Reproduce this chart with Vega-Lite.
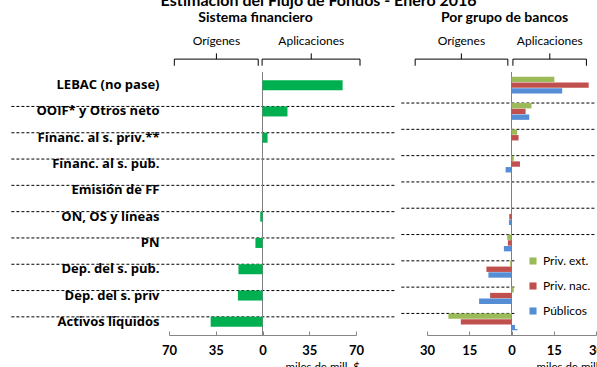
{
  "$schema": "https://vega.github.io/schema/vega-lite/v6.json",
  "background": "white",
  "padding": {"left": 10, "top": -7, "right": 0, "bottom": 0},
  "title": {
    "text": "Estimación del Flujo de Fondos - Enero 2016",
    "font": "Lato", "fontSize": 16, "fontWeight": "bold", "color": "black",
    "anchor": "middle", "offset": 2, "dx": 8
  },
  "config": {
    "font": "Lato",
    "view": {"stroke": null},
    "title": {"font": "Lato", "color": "black"},
    "axis": {"labelFont": "Lato", "titleFont": "Lato"},
    "legend": {"labelFont": "Lato"}
  },
  "datasets": {
    "sistema": [
      {"rubro": "LEBAC (no pase)", "valor": 60},
      {"rubro": "OOIF* y Otros neto", "valor": 18.7},
      {"rubro": "Financ. al s. priv.**", "valor": 3.8},
      {"rubro": "Financ. al s. pub.", "valor": 0},
      {"rubro": "Emisión de FF", "valor": 0},
      {"rubro": "ON, OS y líneas", "valor": -1.7},
      {"rubro": "PN", "valor": -5.3},
      {"rubro": "Dep. del s. pub.", "valor": -18},
      {"rubro": "Dep. del s. priv", "valor": -18.4},
      {"rubro": "Activos líquidos", "valor": -38.8}
    ],
    "grupos": [
      {"rubro": "LEBAC (no pase)", "grupo": "Priv. ext.", "valor": 15.2},
      {"rubro": "LEBAC (no pase)", "grupo": "Priv. nac.", "valor": 27.4},
      {"rubro": "LEBAC (no pase)", "grupo": "Públicos", "valor": 18},
      {"rubro": "OOIF* y Otros neto", "grupo": "Priv. ext.", "valor": 7.1},
      {"rubro": "OOIF* y Otros neto", "grupo": "Priv. nac.", "valor": 5},
      {"rubro": "OOIF* y Otros neto", "grupo": "Públicos", "valor": 6.3},
      {"rubro": "Financ. al s. priv.**", "grupo": "Priv. ext.", "valor": 2},
      {"rubro": "Financ. al s. priv.**", "grupo": "Priv. nac.", "valor": 2.5},
      {"rubro": "Financ. al s. priv.**", "grupo": "Públicos", "valor": 0},
      {"rubro": "Financ. al s. pub.", "grupo": "Priv. ext.", "valor": 0.8},
      {"rubro": "Financ. al s. pub.", "grupo": "Priv. nac.", "valor": 3},
      {"rubro": "Financ. al s. pub.", "grupo": "Públicos", "valor": -2.1},
      {"rubro": "Emisión de FF", "grupo": "Priv. ext.", "valor": 0},
      {"rubro": "Emisión de FF", "grupo": "Priv. nac.", "valor": 0},
      {"rubro": "Emisión de FF", "grupo": "Públicos", "valor": 0},
      {"rubro": "ON, OS y líneas", "grupo": "Priv. ext.", "valor": 0},
      {"rubro": "ON, OS y líneas", "grupo": "Priv. nac.", "valor": -0.8},
      {"rubro": "ON, OS y líneas", "grupo": "Públicos", "valor": -0.9},
      {"rubro": "PN", "grupo": "Priv. ext.", "valor": -1.5},
      {"rubro": "PN", "grupo": "Priv. nac.", "valor": -1.3},
      {"rubro": "PN", "grupo": "Públicos", "valor": -2.7},
      {"rubro": "Dep. del s. pub.", "grupo": "Priv. ext.", "valor": -0.5},
      {"rubro": "Dep. del s. pub.", "grupo": "Priv. nac.", "valor": -8.9},
      {"rubro": "Dep. del s. pub.", "grupo": "Públicos", "valor": -8.2},
      {"rubro": "Dep. del s. priv", "grupo": "Priv. ext.", "valor": 0.8},
      {"rubro": "Dep. del s. priv", "grupo": "Priv. nac.", "valor": -7.6},
      {"rubro": "Dep. del s. priv", "grupo": "Públicos", "valor": -11.5},
      {"rubro": "Activos líquidos", "grupo": "Priv. ext.", "valor": -22.4},
      {"rubro": "Activos líquidos", "grupo": "Priv. nac.", "valor": -18},
      {"rubro": "Activos líquidos", "grupo": "Públicos", "valor": 2.1}
    ],
    "llaves_sf": [
      {"lado": "Orígenes", "desde": -66, "hasta": -3.2, "centro": -34.5},
      {"lado": "Aplicaciones", "desde": -0.3, "hasta": 73, "centro": 36.5}
    ],
    "llaves_gb": [
      {"lado": "Orígenes", "desde": -34.2, "hasta": -1.3, "centro": -17.8},
      {"lado": "Aplicaciones", "desde": 0.5, "hasta": 26.6, "centro": 13.6}
    ]
  },
  "spacing": 3,
  "hconcat": [
    {
      "spacing": 0,
      "vconcat": [
        {
          "width": 187,
          "height": 44,
          "title": {"text": "Sistema financiero", "fontSize": 14, "fontWeight": "bold", "offset": 2, "dx": -7},
          "data": {"name": "llaves_sf"},
          "layer": [
            {
              "mark": {"type": "text", "fontSize": 12, "color": "black"},
              "encoding": {
                "x": {"field": "centro", "type": "quantitative", "scale": {"domain": [-70, 70], "nice": false}, "axis": null},
                "y": {"datum": 0.69, "type": "quantitative", "scale": {"domain": [0, 1]}, "axis": null},
                "text": {"field": "lado"}
              }
            },
            {
              "mark": {"type": "rule", "color": "black", "strokeWidth": 1},
              "encoding": {
                "x": {"field": "desde", "type": "quantitative", "scale": {"domain": [-70, 70], "nice": false}, "axis": null},
                "x2": {"field": "hasta"},
                "y": {"datum": 0.27, "type": "quantitative", "scale": {"domain": [0, 1]}, "axis": null}
              }
            },
            {
              "mark": {"type": "rule", "color": "black", "strokeWidth": 1},
              "encoding": {
                "x": {"field": "desde", "type": "quantitative", "scale": {"domain": [-70, 70], "nice": false}, "axis": null},
                "y": {"datum": 0.27, "type": "quantitative", "scale": {"domain": [0, 1]}, "axis": null},
                "y2": {"datum": 0.12}
              }
            },
            {
              "mark": {"type": "rule", "color": "black", "strokeWidth": 1},
              "encoding": {
                "x": {"field": "hasta", "type": "quantitative", "scale": {"domain": [-70, 70], "nice": false}, "axis": null},
                "y": {"datum": 0.27, "type": "quantitative", "scale": {"domain": [0, 1]}, "axis": null},
                "y2": {"datum": 0.12}
              }
            },
            {
              "mark": {"type": "rule", "color": "black", "strokeWidth": 1},
              "encoding": {
                "x": {"field": "centro", "type": "quantitative", "scale": {"domain": [-70, 70], "nice": false}, "axis": null},
                "y": {"datum": 0.27, "type": "quantitative", "scale": {"domain": [0, 1]}, "axis": null},
                "y2": {"datum": 0.4}
              }
            }
          ]
        },
        {
          "width": 187,
          "height": 263,
          "data": {"name": "sistema"},
          "layer": [
            {
              "transform": [{"filter": "datum.rubro !== 'LEBAC (no pase)'"}],
              "mark": {"type": "rule", "color": "black", "strokeWidth": 1, "strokeDash": [3, 2]},
              "encoding": {
                "y": {"field": "rubro", "type": "nominal", "bandPosition": 0,
                      "scale": {"domain": ["LEBAC (no pase)", "OOIF* y Otros neto", "Financ. al s. priv.**", "Financ. al s. pub.", "Emisión de FF", "ON, OS y líneas", "PN", "Dep. del s. pub.", "Dep. del s. priv", "Activos líquidos"], "paddingInner": 0.62, "paddingOuter": 0.31}},
                "x": {"datum": -188, "type": "quantitative", "scale": {"domain": [-70, 70], "nice": false}},
                "x2": {"datum": 100}
              }
            },
            {
              "data": {"values": [{}]},
              "mark": {"type": "rule", "color": "#7f7f7f", "strokeWidth": 1},
              "encoding": {
                "x": {"datum": 0, "type": "quantitative", "scale": {"domain": [-70, 70], "nice": false}}
              }
            },
            {
              "mark": {"type": "bar", "color": "#00B050"},
              "encoding": {
                "y": {"field": "rubro", "type": "nominal",
                      "scale": {"domain": ["LEBAC (no pase)", "OOIF* y Otros neto", "Financ. al s. priv.**", "Financ. al s. pub.", "Emisión de FF", "ON, OS y líneas", "PN", "Dep. del s. pub.", "Dep. del s. priv", "Activos líquidos"], "paddingInner": 0.62, "paddingOuter": 0.31},
                      "axis": {"title": null, "ticks": false, "domain": false, "grid": false, "labelFont": "Open Sans", "labelFontSize": 13, "labelFontWeight": "bold", "labelColor": "black", "labelPadding": 10, "labelLimit": 300}},
                "x": {"field": "valor", "type": "quantitative", "scale": {"domain": [-70, 70], "nice": false},
                      "axis": {"values": [-70, -35, 0, 35, 70], "labelExpr": "abs(datum.value)", "grid": false, "labelFlush": false,
                               "title": "miles de mill. $", "titleFontSize": 11.5, "titleFontWeight": "normal", "titleColor": "black",
                               "titleAnchor": "start", "titleAlign": "left", "titleBaseline": "top", "titleX": 116, "titleY": 26,
                               "labelFontSize": 13, "labelFontWeight": "bold", "labelColor": "black",
                               "domainColor": "#868686", "tickColor": "#868686", "tickSize": -4, "labelPadding": 13.5}}
              }
            }
          ]
        }
      ]
    },
    {
      "spacing": 0,
      "vconcat": [
        {
          "width": 169,
          "height": 44,
          "title": {"text": "Por grupo de bancos", "fontSize": 14, "fontWeight": "bold", "offset": 2, "dx": -7},
          "data": {"name": "llaves_gb"},
          "layer": [
            {
              "mark": {"type": "text", "fontSize": 12, "color": "black"},
              "encoding": {
                "x": {"field": "centro", "type": "quantitative", "scale": {"domain": [-30, 30], "nice": false}, "axis": null},
                "y": {"datum": 0.69, "type": "quantitative", "scale": {"domain": [0, 1]}, "axis": null},
                "text": {"field": "lado"}
              }
            },
            {
              "mark": {"type": "rule", "color": "black", "strokeWidth": 1},
              "encoding": {
                "x": {"field": "desde", "type": "quantitative", "scale": {"domain": [-30, 30], "nice": false}, "axis": null},
                "x2": {"field": "hasta"},
                "y": {"datum": 0.27, "type": "quantitative", "scale": {"domain": [0, 1]}, "axis": null}
              }
            },
            {
              "mark": {"type": "rule", "color": "black", "strokeWidth": 1},
              "encoding": {
                "x": {"field": "desde", "type": "quantitative", "scale": {"domain": [-30, 30], "nice": false}, "axis": null},
                "y": {"datum": 0.27, "type": "quantitative", "scale": {"domain": [0, 1]}, "axis": null},
                "y2": {"datum": 0.12}
              }
            },
            {
              "mark": {"type": "rule", "color": "black", "strokeWidth": 1},
              "encoding": {
                "x": {"field": "hasta", "type": "quantitative", "scale": {"domain": [-30, 30], "nice": false}, "axis": null},
                "y": {"datum": 0.27, "type": "quantitative", "scale": {"domain": [0, 1]}, "axis": null},
                "y2": {"datum": 0.12}
              }
            },
            {
              "mark": {"type": "rule", "color": "black", "strokeWidth": 1},
              "encoding": {
                "x": {"field": "centro", "type": "quantitative", "scale": {"domain": [-30, 30], "nice": false}, "axis": null},
                "y": {"datum": 0.27, "type": "quantitative", "scale": {"domain": [0, 1]}, "axis": null},
                "y2": {"datum": 0.4}
              }
            }
          ]
        },
        {
          "width": 169,
          "height": 263,
          "data": {"name": "grupos"},
          "layer": [
            {
              "transform": [{"filter": "datum.grupo === 'Priv. ext.' && datum.rubro !== 'LEBAC (no pase)'"}],
              "mark": {"type": "rule", "color": "black", "strokeWidth": 1, "strokeDash": [3, 2]},
              "encoding": {
                "y": {"field": "rubro", "type": "nominal", "bandPosition": 0, "axis": null,
                      "scale": {"domain": ["LEBAC (no pase)", "OOIF* y Otros neto", "Financ. al s. priv.**", "Financ. al s. pub.", "Emisión de FF", "ON, OS y líneas", "PN", "Dep. del s. pub.", "Dep. del s. priv", "Activos líquidos"], "paddingInner": 0.36, "paddingOuter": 0.18}},
                "x": {"datum": -39.1, "type": "quantitative", "scale": {"domain": [-30, 30], "nice": false}},
                "x2": {"datum": 30}
              }
            },
            {
              "data": {"values": [{}]},
              "mark": {"type": "rule", "color": "#7f7f7f", "strokeWidth": 1},
              "encoding": {
                "x": {"datum": 0, "type": "quantitative", "scale": {"domain": [-30, 30], "nice": false}}
              }
            },
            {
              "mark": {"type": "bar"},
              "encoding": {
                "y": {"field": "rubro", "type": "nominal", "axis": null,
                      "scale": {"domain": ["LEBAC (no pase)", "OOIF* y Otros neto", "Financ. al s. priv.**", "Financ. al s. pub.", "Emisión de FF", "ON, OS y líneas", "PN", "Dep. del s. pub.", "Dep. del s. priv", "Activos líquidos"], "paddingInner": 0.36, "paddingOuter": 0.18}},
                "yOffset": {"field": "grupo", "type": "nominal", "scale": {"domain": ["Priv. ext.", "Priv. nac.", "Públicos"], "paddingInner": 0.06}},
                "x": {"field": "valor", "type": "quantitative", "scale": {"domain": [-30, 30], "nice": false},
                      "axis": {"values": [-30, -15, 0, 15, 30], "labelExpr": "abs(datum.value)", "grid": false, "labelFlush": false,
                               "title": "miles de mill. $", "titleFontSize": 11.5, "titleFontWeight": "normal", "titleColor": "black",
                               "titleAnchor": "start", "titleAlign": "left", "titleBaseline": "top", "titleX": 109, "titleY": 26,
                               "labelFontSize": 13, "labelFontWeight": "bold", "labelColor": "black",
                               "domainColor": "#868686", "tickColor": "#868686", "tickSize": -4, "labelPadding": 13.5}},
                "color": {"field": "grupo", "type": "nominal",
                          "scale": {"domain": ["Priv. ext.", "Priv. nac.", "Públicos"], "range": ["#9BBB59", "#C0504D", "#558ED5"]},
                          "legend": {"orient": "none", "legendX": 346, "legendY": 216, "padding": 12, "fillColor": "white", "strokeColor": null, "title": null, "symbolType": "square", "symbolSize": 50, "symbolStrokeWidth": 0, "labelFontSize": 12, "labelColor": "black", "rowPadding": 13}}
              }
            }
          ]
        }
      ]
    }
  ]
}
